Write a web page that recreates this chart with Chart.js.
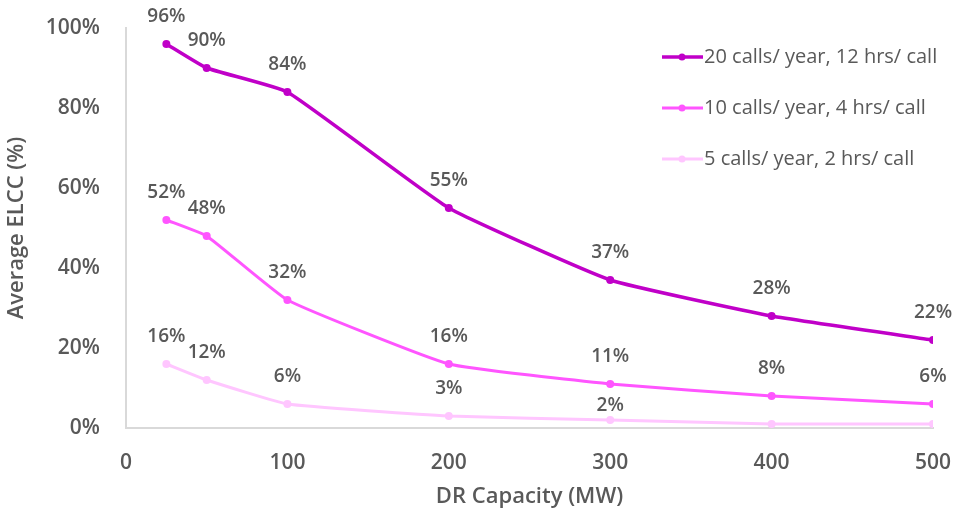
<!DOCTYPE html>
<html>
<head>
<meta charset="utf-8">
<script src="https://cdn.jsdelivr.net/npm/chart.js@4/dist/chart.umd.min.js"></script>
<style>
  html, body { margin: 0; padding: 0; background: #fff; }
  #wrap { width: 955px; height: 514px; position: relative; }
</style>
</head>
<body>
<div id="wrap"><canvas id="elcc-chart" width="955" height="514"></canvas></div>
<script>
const capacityMW = [25, 50, 100, 200, 300, 400, 500];
const elcc20calls = [96, 90, 84, 55, 37, 28, 22];
const elcc10calls = [52, 48, 32, 16, 11, 8, 6];
const elcc5calls = [16, 12, 6, 3, 2, 1, 1];
// which points get a value label (the last two on the lightest series are unlabelled)
const showLabel5calls = [true, true, true, true, true, false, false];
const seriesNames = [
  '20 calls/ year, 12 hrs/ call',
  '10 calls/ year, 4 hrs/ call',
  '5 calls/ year, 2 hrs/ call',
];
const xTicks = [0, 100, 200, 300, 400, 500];

const textColor = '#595959';
const fontFamily = '"Open Sans", sans-serif';
const labelFont = '600 19px ' + fontFamily;

function toPoints(values) {
  return values.map((v, i) => ({ x: capacityMW[i], y: v }));
}

const valueLabels = {
  id: 'valueLabels',
  afterDatasetsDraw(chart) {
    const ctx = chart.ctx;
    ctx.save();
    ctx.font = labelFont;
    ctx.fillStyle = textColor;
    ctx.textAlign = 'center';
    ctx.textBaseline = 'middle';
    chart.data.datasets.forEach((ds, di) => {
      const meta = chart.getDatasetMeta(di);
      meta.data.forEach((pt, i) => {
        if (ds.labelMask && !ds.labelMask[i]) return;
        const lift = (ds.labelLift && ds.labelLift[i]) || 27;
        ctx.fillText(ds.data[i].y + '%', pt.x, pt.y - lift);
      });
    });
    ctx.restore();
  },
};

const cornerLegend = {
  id: 'cornerLegend',
  afterDraw(chart) {
    const ctx = chart.ctx;
    ctx.save();
    ctx.font = '20px ' + fontFamily;
    ctx.textBaseline = 'middle';
    ctx.textAlign = 'left';
    const rows = [57, 108, 159];
    chart.data.datasets.forEach((ds, i) => {
      const y = rows[i];
      ctx.strokeStyle = ds.borderColor;
      ctx.lineWidth = ds.borderWidth;
      ctx.beginPath();
      ctx.moveTo(662, y);
      ctx.lineTo(703, y);
      ctx.stroke();
      ctx.fillStyle = ds.borderColor;
      ctx.beginPath();
      ctx.arc(682, y, 3.5, 0, Math.PI * 2);
      ctx.fill();
      ctx.fillStyle = textColor;
      ctx.fillText(seriesNames[i], 704, y);
    });
    ctx.restore();
  },
};

function makeDataset(values, color, width) {
  return {
    data: toPoints(values),
    borderColor: color,
    backgroundColor: color,
    borderWidth: width,
    pointRadius: 4,
    pointHoverRadius: 4,
    pointBackgroundColor: color,
    pointBorderWidth: 0,
    tension: 0.12,
  };
}

function renderChart() {
  const ds1 = makeDataset(elcc20calls, '#c000c8', 3.5);
  const ds2 = makeDataset(elcc10calls, '#ff55ff', 3);
  const ds3 = makeDataset(elcc5calls, '#ffc6ff', 3);
  ds3.labelMask = showLabel5calls;
  ds3.labelLift = [27, 27, 27, 27, 14];

  const tickFont = { family: fontFamily, size: 21, weight: '600' };
  const titleFont = { family: fontFamily, size: 22, weight: '600' };

  return new Chart(document.getElementById('elcc-chart'), {
    type: 'line',
    data: { datasets: [ds1, ds2, ds3] },
    plugins: [valueLabels, cornerLegend],
    options: {
      responsive: false,
      animation: false,
      layout: { padding: { top: 28, right: 22, left: 0, bottom: 0 } },
      plugins: {
        legend: { display: false },
        tooltip: { enabled: false },
      },
      scales: {
        x: {
          type: 'linear',
          min: 0,
          max: 500,
          afterBuildTicks: (scale) => {
            scale.ticks = xTicks.map((v) => ({ value: v }));
          },
          grid: { display: false, drawTicks: false },
          border: { color: '#d9d9d9', width: 2 },
          ticks: {
            color: textColor,
            font: tickFont,
            padding: 22,
            maxRotation: 0,
          },
          title: {
            display: true,
            text: 'DR Capacity (MW)',
            color: textColor,
            font: titleFont,
            padding: { top: 5 },
          },
          afterFit: (scale) => {
            scale.height = 86;
            scale.paddingLeft = 0;
            scale.paddingRight = 0;
          },
        },
        y: {
          min: 0,
          max: 100,
          grid: { display: false, drawTicks: false },
          border: { color: '#d9d9d9', width: 2 },
          ticks: {
            stepSize: 20,
            color: textColor,
            font: tickFont,
            padding: 26,
            callback: (v) => v + '%',
          },
          title: {
            display: true,
            text: 'Average ELCC (%)',
            color: textColor,
            font: titleFont,
            padding: { bottom: 4 },
          },
          afterFit: (scale) => {
            scale.width = 126;
            scale.paddingTop = 0;
            scale.paddingBottom = 0;
          },
        },
      },
    },
  });
}

renderChart();
</script>
</body>
</html>
